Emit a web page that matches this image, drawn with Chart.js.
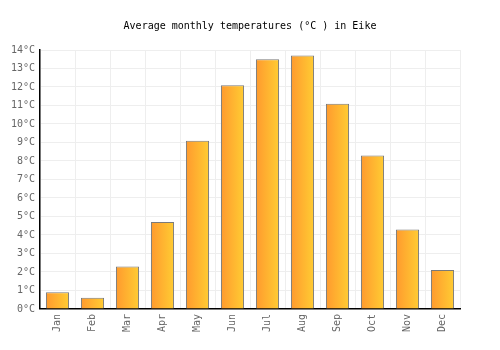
<!DOCTYPE html>
<html>
<head>
<meta charset="utf-8">
<script src="https://cdn.jsdelivr.net/npm/chart.js@4"></script>
<style>
  html, body { margin: 0; padding: 0; background: #fff; }
</style>
</head>
<body>
<canvas id="grafico" width="500" height="350"></canvas>
<script>
const meses = ["Jan", "Feb", "Mar", "Apr", "May", "Jun", "Jul", "Aug", "Sep", "Oct", "Nov", "Dec"];
const temps = [0.9, 0.6, 2.3, 4.7, 9.1, 12.1, 13.5, 13.7, 11.1, 8.3, 4.3, 2.1];
const yTicks = [0, 1, 2, 3, 4, 5, 6, 7, 8, 9, 10, 11, 12, 13, 14];

const fonte = "'DejaVu Sans Mono', monospace";
const larguraBarra = 0.66;

// gradiente horizontal em cada barra, calculado pela escala x
function barFill(ctx) {
  const chart = ctx.chart;
  const xs = chart.scales && chart.scales.x;
  if (!chart.chartArea || !xs || ctx.dataIndex === undefined) return "#ffb030";
  const cx = xs.getPixelForValue(ctx.dataIndex);
  const w = xs.width / meses.length * larguraBarra;
  const g = chart.ctx.createLinearGradient(cx - w / 2, 0, cx + w / 2, 0);
  g.addColorStop(0, "#ff9a2e");
  g.addColorStop(1, "#ffcc33");
  return g;
}

new Chart(document.getElementById("grafico"), {
  type: "bar",
  data: {
    labels: meses,
    datasets: [{
      data: temps,
      backgroundColor: barFill,
      borderColor: "#7a7a7a",
      borderWidth: 1,
      barPercentage: larguraBarra,
      categoryPercentage: 1
    }]
  },
  options: {
    responsive: false,
    animation: false,
    layout: { padding: { left: 0, right: 0, top: 0, bottom: 13 } },
    plugins: {
      legend: { display: false },
      tooltip: { enabled: false },
      title: {
        display: true,
        text: "Average monthly temperatures (°C ) in Eike",
        color: "#000",
        font: { family: fonte, size: 10, weight: "normal" },
        padding: { top: 20, bottom: 18 }
      }
    },
    scales: {
      x: {
        grid: { color: "#eeeeee", offset: true, drawTicks: false },
        border: { color: "#000", width: 1.5 },
        ticks: {
          color: "#666",
          font: { family: fonte, size: 10 },
          minRotation: 90,
          maxRotation: 90,
          autoSkip: false,
          padding: 5
        }
      },
      y: {
        min: 0,
        max: 14,
        afterBuildTicks: (axis) => { axis.ticks = yTicks.map(v => ({ value: v })); },
        afterFit: (axis) => { axis.width = 40; },
        grid: { color: "#eeeeee", drawTicks: false },
        border: { color: "#000", width: 1.5 },
        ticks: {
          color: "#666",
          font: { family: fonte, size: 10 },
          autoSkip: false,
          padding: 5,
          callback: (v) => v + "°C"
        }
      },
      // espaço vazio à direita do gráfico
      margem: {
        position: "right",
        grid: { display: false },
        border: { display: false },
        ticks: { display: false },
        afterFit: (axis) => { axis.width = 40; }
      }
    }
  }
});
</script>
</body>
</html>
